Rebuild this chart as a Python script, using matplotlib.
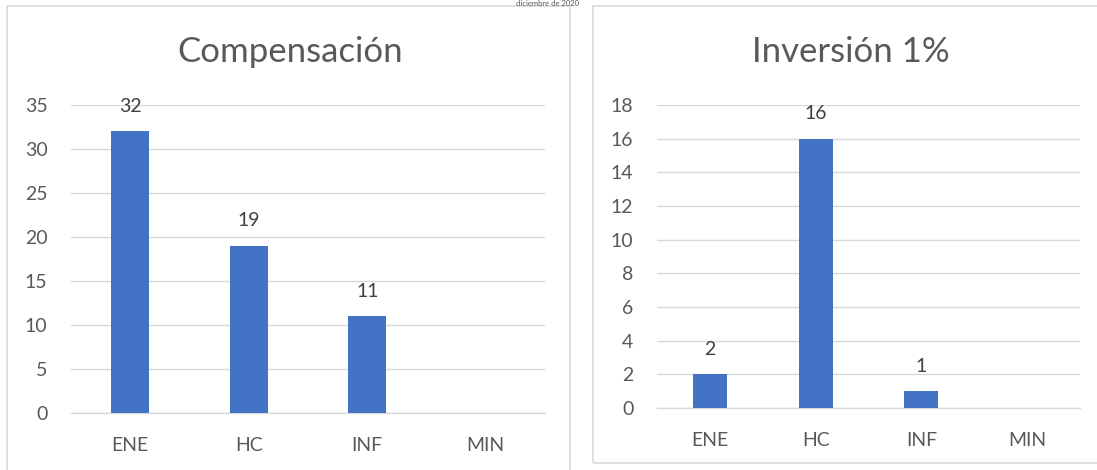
import matplotlib
matplotlib.use("Agg")
import matplotlib.pyplot as plt
from matplotlib.patches import Rectangle

categories = ["ENE", "HC", "INF", "MIN"]
comp_values = [32, 19, 11, 0]
inv_values = [2, 16, 1, 0]
comp_ticks = [0, 5, 10, 15, 20, 25, 30, 35]
inv_ticks = [0, 2, 4, 6, 8, 10, 12, 14, 16, 18]

W, H = 1097, 470
plt.rcParams['font.family'] = ['Lato', 'DejaVu Sans']
TXT = "#595959"
BAR = "#4472C4"
GRID = "#D9D9D9"

fig = plt.figure(figsize=(W / 100, H / 100), dpi=100)

def px_rect(x0, y0, x1, y1):
    return [x0 / W, 1 - y1 / H, (x1 - x0) / W, (y1 - y0) / H]

# chart borders
fig.patches.append(Rectangle((7 / W, 1 - 475 / H), (570 - 7) / W, (475 - 6) / H,
                             transform=fig.transFigure, fill=False, ec=GRID, lw=1.2))
fig.patches.append(Rectangle((593 / W, 1 - 463 / H), (1100 - 593) / W, (463 - 6) / H,
                             transform=fig.transFigure, fill=False, ec=GRID, lw=1.2))

fig.text(548 / W, 1 - 0.5 / H, "diciembre de 2020", ha="center", va="top",
         fontsize=5.5, color=TXT)

def draw(rect, values, ticks, title, title_x):
    ax = fig.add_axes(px_rect(*rect))
    x = range(len(categories))
    ax.bar(x, values, width=0.32, color=BAR, zorder=3)
    ax.set_xlim(-0.5, len(categories) - 0.5)
    ax.set_ylim(0, ticks[-1])
    ax.set_yticks(ticks)
    ax.set_xticks(list(x))
    ax.set_xticklabels(categories)
    ax.yaxis.grid(True, color=GRID, lw=1.0, zorder=0)
    ax.set_axisbelow(True)
    for s in ax.spines.values():
        s.set_visible(False)
    ax.spines['bottom'].set_visible(True)
    ax.spines['bottom'].set_color(GRID)
    ax.spines['bottom'].set_linewidth(1.0)
    ax.tick_params(axis='y', length=0, pad=17, labelsize=14, labelcolor=TXT)
    ax.tick_params(axis='x', length=0, pad=17, labelsize=14, labelcolor=TXT)
    for i, v in enumerate(values):
        if v > 0:
            ax.annotate(str(v), (i, v), xytext=(0, 12), textcoords="offset points",
                        ha="center", va="bottom", fontsize=14, color="#404040",
                        annotation_clip=False)
    fig.text(title_x / W, 1 - 52 / H, title, ha="center", va="center",
             fontsize=25, color=TXT)
    return ax

draw((71, 105, 545, 413), comp_values, comp_ticks, "Compensación", 290)
draw((657, 105, 1080, 408), inv_values, inv_ticks, "Inversión 1%", 851)

fig.savefig("out.png", dpi=100)
